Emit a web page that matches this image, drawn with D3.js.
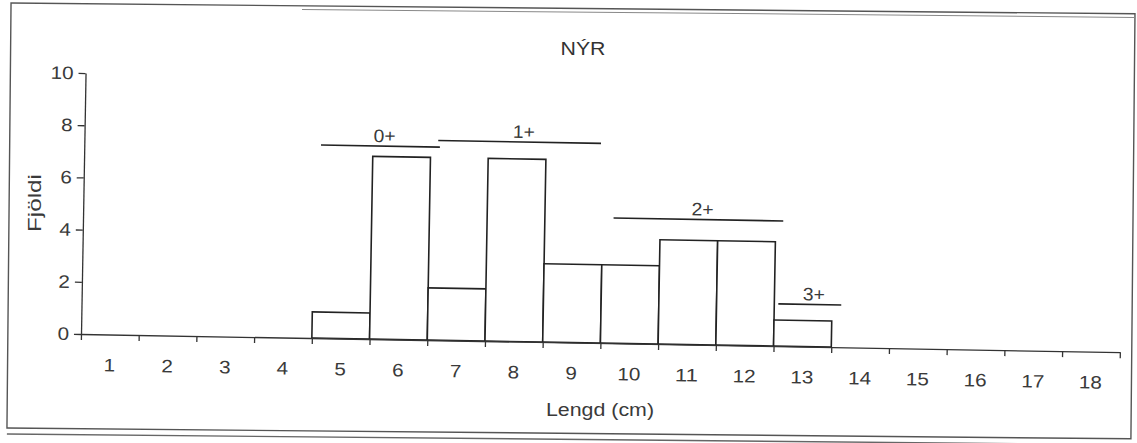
<!DOCTYPE html>
<html>
<head>
<meta charset="utf-8">
<script src="https://cdn.jsdelivr.net/npm/d3@7"></script>
<style>
body { margin: 0; background: #fff; }
text { font-family: "Liberation Sans", Arial, sans-serif; }
</style>
</head>
<body>
<svg width="1137" height="443"></svg>
<script>
var lengths = [1, 2, 3, 4, 5, 6, 7, 8, 9, 10, 11, 12, 13, 14, 15, 16, 17, 18];
var counts = [0, 0, 0, 0, 1, 7, 2, 7, 3, 3, 4, 4, 1, 0, 0, 0, 0, 0];
var yTicks = [0, 2, 4, 6, 8, 10];

// age groups drawn as lines over the bars (in cm, count units)
var ageGroups = ["0+", "1+", "2+", "3+"];
var ageFrom = [4.6, 6.63, 9.69, 12.57];
var ageTo = [6.66, 9.45, 12.63, 13.66];
var ageLevel = [7.4, 7.65, 4.8, 1.62];

var ink = "#222";
var textInk = "#3a3a3a";

var svg = d3.select("svg");

// page frame (scan is a little crooked)
var frame = svg.append("g").attr("transform", "rotate(0.55,571,218)");
frame.append("rect")
    .attr("x", 9).attr("y", 8.4)
    .attr("width", 1124).attr("height", 425)
    .attr("fill", "none")
    .attr("stroke", "#555")
    .attr("stroke-width", 1.4);
frame.append("line")
    .attr("x1", 9).attr("x2", 1133)
    .attr("y1", 439.4).attr("y2", 439.4)
    .attr("stroke", "#666")
    .attr("stroke-width", 1.4);
frame.append("line")
    .attr("x1", 300).attr("x2", 1133)
    .attr("y1", 12).attr("y2", 12)
    .attr("stroke", "#888")
    .attr("stroke-width", 1);

var g = svg.append("g").attr("transform", "rotate(1,81,334)");

var x = d3.scaleBand().domain(lengths).range([81, 1120]).padding(0);
var xl = d3.scaleLinear().domain([0.5, 18.5]).range([81, 1120]);
var y = d3.scaleLinear().domain([0, 10]).range([334, 73]);

// bars
var bars = lengths.map(function(l, i) { return { len: l, n: counts[i] }; })
    .filter(function(d) { return d.n > 0; });

g.append("g")
    .selectAll("rect")
    .data(bars)
    .enter()
    .append("rect")
    .attr("x", function(d) { return x(d.len); })
    .attr("y", function(d) { return y(d.n); })
    .attr("width", x.bandwidth())
    .attr("height", function(d) { return y(0) - y(d.n); })
    .attr("fill", "#fff")
    .attr("stroke", ink)
    .attr("stroke-width", 1.6);

// x axis: tick marks between categories
var bounds = lengths.map(function(l) { return l - 0.5; }).concat([18.5]);
g.append("g")
    .attr("transform", "translate(0,334)")
    .call(d3.axisBottom(xl).tickValues(bounds).tickFormat("").tickSizeInner(6).tickSizeOuter(0));

// x axis labels
var xLab = g.append("g")
    .attr("transform", "translate(0,334)")
    .call(d3.axisBottom(x).tickSize(0).tickPadding(24));
xLab.select(".domain").remove();

// y axis
g.append("g")
    .attr("transform", "translate(81,0)")
    .call(d3.axisLeft(y).tickValues(yTicks).tickSizeInner(7).tickSizeOuter(0).tickPadding(5));

g.selectAll(".domain, .tick line")
    .attr("stroke", "#333")
    .attr("stroke-width", 1.3);
g.selectAll(".tick text")
    .attr("font-family", "Liberation Sans, Arial, sans-serif")
    .attr("font-size", 18)
    .attr("fill", textInk)
    .attr("textLength", function(d) { return String(d).length * 11.5; })
    .attr("lengthAdjust", "spacingAndGlyphs");

// age group lines + labels
ageGroups.forEach(function(a, i) {
    g.append("line")
        .attr("x1", xl(ageFrom[i]))
        .attr("x2", xl(ageTo[i]))
        .attr("y1", y(ageLevel[i]))
        .attr("y2", y(ageLevel[i]))
        .attr("stroke", ink)
        .attr("stroke-width", 1.6);
    g.append("text")
        .attr("x", (xl(ageFrom[i]) + xl(ageTo[i])) / 2 + 4)
        .attr("y", y(ageLevel[i]) - 4)
        .attr("text-anchor", "middle")
        .attr("font-size", 18)
        .attr("fill", textInk)
        .attr("textLength", 22)
        .attr("lengthAdjust", "spacingAndGlyphs")
        .text(a);
});

// titles
svg.append("text")
    .attr("x", 583).attr("y", 55)
    .attr("text-anchor", "middle")
    .attr("font-size", 18)
    .attr("fill", "#333")
    .attr("textLength", 45)
    .attr("lengthAdjust", "spacingAndGlyphs")
    .text("NÝR");

svg.append("text")
    .attr("x", 600).attr("y", 416)
    .attr("text-anchor", "middle")
    .attr("font-size", 18)
    .attr("fill", textInk)
    .attr("textLength", 108)
    .attr("lengthAdjust", "spacingAndGlyphs")
    .text("Lengd (cm)");

svg.append("text")
    .attr("transform", "translate(41,203) rotate(-90)")
    .attr("text-anchor", "middle")
    .attr("font-size", 18)
    .attr("fill", textInk)
    .attr("textLength", 58)
    .attr("lengthAdjust", "spacingAndGlyphs")
    .text("Fjöldi");
</script>
</body>
</html>
